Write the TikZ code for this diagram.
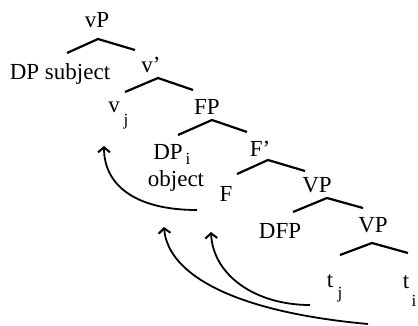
\documentclass[tikz,border=0pt]{standalone}
\usepackage{fontspec}
\setmainfont{Liberation Serif}
\usetikzlibrary{arrows.meta}
\newcommand\lblsz{\fontsize{23}{26}\selectfont}
\newcommand\subsz{\fontsize{17}{19}\selectfont}
\begin{document}
\begin{tikzpicture}[x=1pt,y=-1pt,
  lbl/.style={anchor=base,inner sep=0pt,font=\lblsz},
  sublbl/.style={anchor=base,inner sep=0pt,font=\subsz},
  branch/.style={line width=2.2pt},
  arr/.style={line width=1.8pt,-{Straight Barb[length=5pt,width=12pt,line width=2pt]}}]
\useasboundingbox (0,0) rectangle (418,326);
% labels
\node[lbl] (vP) at (97,28) {vP};
\node[lbl] (dpsubj) at (60,80) {DP subject};
\node[lbl] (vbar) at (151,73) {v'};
\node[lbl] (vj) at (114,113) {v};
\node[sublbl] (vjs) at (126,126) {j};
\node[lbl] (FP) at (207,115) {FP};
\node[lbl] (DPi) at (168,160) {DP};
\node[sublbl] (DPis) at (188,165) {i};
\node[lbl] (obj) at (176,186) {object};
\node[lbl] (Fbar) at (260,157) {F'};
\node[lbl] (F) at (226,202) {F};
\node[lbl] (VPa) at (317,193) {VP};
\node[lbl] (DFP) at (280,238) {DFP};
\node[lbl] (VPb) at (373,233) {VP};
\node[lbl] (tj) at (330,287) {t};
\node[sublbl] (tjs) at (340,298) {j};
\node[lbl] (ti) at (406,288) {t};
\node[sublbl] (tis) at (414,306) {i};
% branches
\coordinate (a1) at (98,39);  \coordinate (l1) at (67,53);  \coordinate (r1) at (135,50);
\coordinate (a2) at (158,78); \coordinate (l2) at (125,92); \coordinate (r2) at (193,90);
\coordinate (a3) at (212,120);\coordinate (l3) at (178,135);\coordinate (r3) at (247,132);
\coordinate (a4) at (268,160);\coordinate (l4) at (237,174);\coordinate (r4) at (305,171);
\coordinate (a5) at (327,198);\coordinate (l5) at (293,212);\coordinate (r5) at (363,208);
\coordinate (a6) at (372,243);\coordinate (l6) at (340,255);\coordinate (r6) at (408,253);
\foreach \i in {1,...,6}{\draw[branch] (l\i) -- (a\i) -- (r\i);}
% movement arrows
\coordinate (tA) at (197,210); \coordinate (hA) at (104,146);
\coordinate (tB) at (368,324); \coordinate (hB) at (164,227);
\coordinate (tC) at (310,305); \coordinate (hC) at (211,232);
\draw[arr] (tA) .. controls (135,210) and (104,185) .. (hA);
\draw[arr] (tB) .. controls (235,312) and (168,275) .. (hB);
\draw[arr] (tC) .. controls (255,305) and (213,275) .. (hC);
\end{tikzpicture}
\end{document}
